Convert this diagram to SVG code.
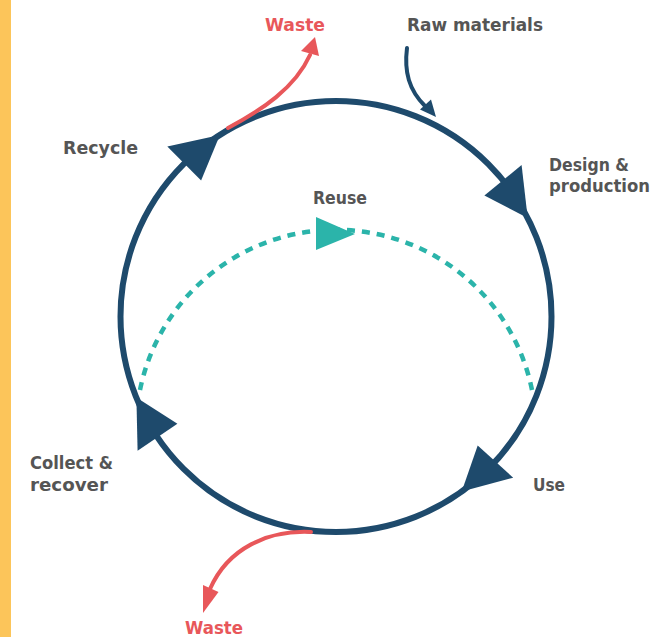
<svg xmlns="http://www.w3.org/2000/svg" width="658" height="637" viewBox="0 0 658 637">
<style>
.lbl{font-family:"DejaVu Sans","Liberation Sans",sans-serif;font-weight:bold;font-size:18px;fill:#555555}
.waste{fill:#e8575a}
.navy{fill:none;stroke:#1e4a6c;stroke-width:6}
.navyThin{fill:none;stroke:#1e4a6c;stroke-width:4;stroke-linecap:round}
.red{fill:none;stroke:#e8575a;stroke-width:4;stroke-linecap:round}
.teal{fill:none;stroke:#2bb4aa;stroke-width:4.5;stroke-dasharray:8 7}
.headN{fill:#1e4a6c}
.headR{fill:#e8575a}
.headT{fill:#2bb4aa}
</style>
<rect x="0" y="0" width="658" height="637" fill="#ffffff"/>
<rect x="0" y="0" width="11" height="637" fill="#fcc55a"/>
<g id="connectors">
  <circle class="navy" cx="336" cy="316.5" r="215.5"/>
  <polygon class="headN" points="219.9,134.9 167.3,146.6 201.1,180.6"/>
  <polygon class="headN" points="527.7,218 521.6,165.1 484.4,195.5"/>
  <polygon class="headN" points="461.7,491.5 513.2,477.7 477.7,445.4"/>
  <polygon class="headN" points="136.4,397.6 137.6,450.8 177.4,423.8"/>
  <path class="teal" d="M140,390 A200,200 0 0 1 532,390"/>
  <polygon class="headT" points="316,217 316,250 355,234"/>
  <path class="navyThin" d="M407,48 C404,72 409,90 425,106"/>
  <polygon class="headN" points="420,109.5 431,99.5 436,117"/>
  <path class="red" d="M228,128 C262,110 295,88 310,55"/>
  <polygon class="headR" points="301,51 319,56 315,37"/>
  <path class="red" d="M311,532 C268,530 228,548 210,589"/>
  <polygon class="headR" points="203,585 218.5,592 203,613"/>
</g>
<g id="node-waste-top"><text class="lbl waste" x="265" y="30.5" textLength="60" lengthAdjust="spacingAndGlyphs">Waste</text></g>
<g id="node-raw"><text class="lbl" x="407" y="30.5" textLength="136" lengthAdjust="spacingAndGlyphs">Raw materials</text></g>
<g id="node-recycle"><text class="lbl" x="63" y="153.5" textLength="75" lengthAdjust="spacingAndGlyphs">Recycle</text></g>
<g id="node-design"><text class="lbl" x="549" y="170.5" textLength="80" lengthAdjust="spacingAndGlyphs">Design &amp;</text><text class="lbl" x="549" y="191.5" textLength="101" lengthAdjust="spacingAndGlyphs">production</text></g>
<g id="node-reuse"><text class="lbl" x="313" y="204" textLength="54" lengthAdjust="spacingAndGlyphs">Reuse</text></g>
<g id="node-use"><text class="lbl" x="533" y="490.5" textLength="32" lengthAdjust="spacingAndGlyphs">Use</text></g>
<g id="node-collect"><text class="lbl" x="30" y="468.5" textLength="83" lengthAdjust="spacingAndGlyphs">Collect &amp;</text><text class="lbl" x="30" y="490.5" textLength="78" lengthAdjust="spacingAndGlyphs">recover</text></g>
<g id="node-waste-bottom"><text class="lbl waste" x="185" y="634" textLength="58" lengthAdjust="spacingAndGlyphs">Waste</text></g>
</svg>
